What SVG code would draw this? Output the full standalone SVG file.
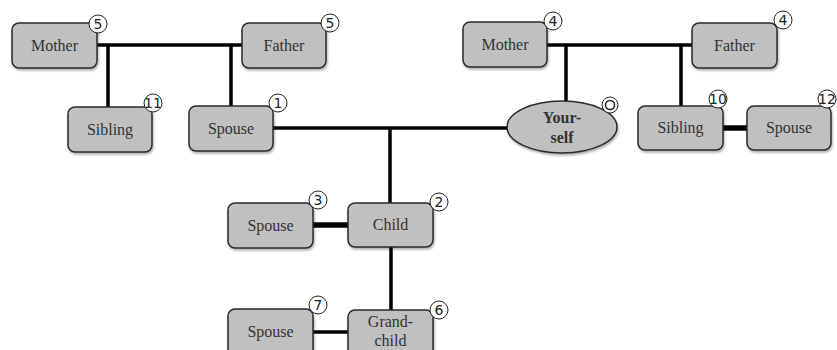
<svg xmlns="http://www.w3.org/2000/svg" width="837" height="350" viewBox="0 0 837 350">
<defs>
<style>
.box{fill:#c0c0c0;stroke:#2a2a2a;stroke-width:1.5}
.lbl{font-family:"Liberation Serif",serif;font-size:16px;fill:#333;text-anchor:middle}
.b{font-weight:bold}
.num{font-family:"DejaVu Sans",sans-serif;font-size:14px;fill:#222;text-anchor:middle}
.ring{fill:#fff;stroke:#222;stroke-width:1}
.ln{stroke:#000;stroke-width:3.5;fill:none}
.thk{stroke:#000;stroke-width:5.5;fill:none}
</style>
<filter id="sh" x="-10%" y="-10%" width="130%" height="140%">
<feDropShadow dx="1" dy="2" stdDeviation="1.2" flood-color="#000" flood-opacity="0.3"/>
</filter>
</defs>
<rect width="837" height="350" fill="#fff"/>
<g id="connectors">
<line class="ln" x1="97" y1="45" x2="242" y2="45"/>
<line class="ln" x1="108" y1="45" x2="108" y2="107"/>
<line class="ln" x1="231" y1="45" x2="231" y2="106"/>
<line class="ln" x1="273" y1="128" x2="508" y2="128"/>
<line class="ln" x1="390" y1="128" x2="390" y2="203"/>
<line class="ln" x1="547" y1="45" x2="692" y2="45"/>
<line class="ln" x1="566" y1="45" x2="566" y2="101"/>
<line class="ln" x1="681" y1="45" x2="681" y2="106"/>
<line class="thk" x1="723" y1="128" x2="747" y2="128"/>
<line class="thk" x1="313" y1="225" x2="348" y2="225"/>
<line class="ln" x1="391" y1="247" x2="391" y2="310"/>
<line class="ln" x1="313" y1="332" x2="348" y2="332"/>
</g>
<g id="mother-l"><rect class="box" filter="url(#sh)" x="12" y="23" width="85" height="45" rx="7"/><text class="lbl" x="54.5" y="51">Mother</text><circle class="ring" cx="98" cy="24" r="9"/><text class="num" x="98" y="29">5</text></g>
<g id="father-l"><rect class="box" filter="url(#sh)" x="242" y="23" width="84" height="45" rx="7"/><text class="lbl" x="284" y="51">Father</text><circle class="ring" cx="330" cy="23" r="9"/><text class="num" x="330" y="28">5</text></g>
<g id="sibling-l"><rect class="box" filter="url(#sh)" x="68" y="107" width="84" height="45" rx="7"/><text class="lbl" x="110" y="135">Sibling</text><circle class="ring" cx="153" cy="103" r="9"/><text class="num" x="153" y="107.5" font-size="11">11</text></g>
<g id="spouse1"><rect class="box" filter="url(#sh)" x="189" y="106" width="84" height="45" rx="7"/><text class="lbl" x="231" y="134">Spouse</text><circle class="ring" cx="278" cy="103" r="9"/><text class="num" x="278" y="108">1</text></g>
<g id="mother-r"><rect class="box" filter="url(#sh)" x="463" y="22" width="84" height="45" rx="7"/><text class="lbl" x="505" y="50">Mother</text><circle class="ring" cx="553" cy="21" r="9"/><text class="num" x="553" y="26">4</text></g>
<g id="father-r"><rect class="box" filter="url(#sh)" x="692" y="23" width="85" height="45" rx="7"/><text class="lbl" x="734.5" y="51">Father</text><circle class="ring" cx="783" cy="20" r="9"/><text class="num" x="783" y="25">4</text></g>
<g id="yourself"><ellipse class="box" filter="url(#sh)" cx="562" cy="127" rx="55" ry="26"/><text class="lbl b" x="562" y="123">Your-</text><text class="lbl b" x="562" y="143">self</text><circle class="ring" cx="610" cy="105" r="8"/><circle fill="none" stroke="#222" stroke-width="1.5" cx="610" cy="105" r="4.5"/></g>
<g id="sibling-r"><rect class="box" filter="url(#sh)" x="638" y="106" width="85" height="44" rx="7"/><text class="lbl" x="680.5" y="133">Sibling</text><circle class="ring" cx="718" cy="99" r="9"/><text class="num" x="718" y="103.5" font-size="11">10</text></g>
<g id="spouse12"><rect class="box" filter="url(#sh)" x="747" y="106" width="84" height="44" rx="7"/><text class="lbl" x="789" y="133">Spouse</text><circle class="ring" cx="827" cy="99" r="9"/><text class="num" x="827" y="103.5" font-size="11">12</text></g>
<g id="child"><rect class="box" filter="url(#sh)" x="348" y="203" width="85" height="44" rx="7"/><text class="lbl" x="390.5" y="230">Child</text><circle class="ring" cx="439" cy="202" r="9"/><text class="num" x="439" y="207">2</text></g>
<g id="spouse3"><rect class="box" filter="url(#sh)" x="228" y="203" width="85" height="45" rx="7"/><text class="lbl" x="270.5" y="231">Spouse</text><circle class="ring" cx="318" cy="200" r="9"/><text class="num" x="318" y="205">3</text></g>
<g id="grandchild"><rect class="box" filter="url(#sh)" x="348" y="310" width="85" height="50" rx="7"/><text class="lbl" x="390.5" y="327">Grand-</text><text class="lbl" x="390.5" y="346">child</text><circle class="ring" cx="439" cy="310" r="9"/><text class="num" x="439" y="315">6</text></g>
<g id="spouse7"><rect class="box" filter="url(#sh)" x="228" y="309" width="85" height="50" rx="7"/><text class="lbl" x="270.5" y="337">Spouse</text><circle class="ring" cx="318" cy="305" r="9"/><text class="num" x="318" y="310">7</text></g>
</svg>
